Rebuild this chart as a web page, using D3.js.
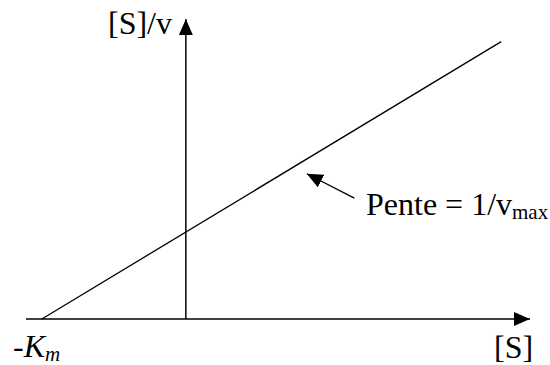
<!DOCTYPE html>
<html>
<head>
<meta charset="utf-8">
<script src="https://cdn.jsdelivr.net/npm/d3@7"></script>
<style>
  html, body { margin: 0; padding: 0; background: #fff; }
</style>
</head>
<body>
<div id="chart"></div>
<script>
// Lineweaver-style plot: [S]/v against [S], Km = 1, vmax = 1
var xDomain = [-1.11, 2.39];     // [S] axis extent (arrow tip at the right)
var yDomain = [0, 3.45];         // [S]/v axis extent (arrow tip at the top)
var lineS = [-1, 2.19];          // [S] values of the straight line
var lineSV = [0, 3.19];          // [S]/v values of the straight line
var pointerFrom = [1.17, 1.39];  // tail of the "Pente" pointer
var pointerTo = [0.84, 1.67];    // head of the "Pente" pointer
var labelY = "[S]/v";
var labelX = "[S]";
var labelKm = ["-", "K", "m"];
var labelSlope = ["Pente = 1/v", "max"];

var serif = "'Liberation Serif', 'DejaVu Serif', serif";

function init(){
  var w = 550, h = 365;

  var xScale = d3.scaleLinear().domain(xDomain).range([26, 530]);
  var yScale = d3.scaleLinear().domain(yDomain).range([319, 19]);

  var svg = d3.select("#chart").append("svg")
    .attr("width", w)
    .attr("height", h);

  var defs = svg.append("defs");
  defs.append("marker")
    .attr("id", "head")
    .attr("markerUnits", "userSpaceOnUse")
    .attr("viewBox", "0 0 16 14")
    .attr("refX", 16).attr("refY", 7)
    .attr("markerWidth", 16).attr("markerHeight", 14)
    .attr("orient", "auto")
    .append("path")
    .attr("d", "M0,0L16,7L0,14Z")
    .attr("fill", "#000");

  // x axis ([S])
  svg.append("line")
    .attr("x1", xScale(xDomain[0])).attr("y1", yScale(0))
    .attr("x2", xScale(xDomain[1])).attr("y2", yScale(0))
    .attr("stroke", "#000").attr("stroke-width", 1.5)
    .attr("marker-end", "url(#head)");

  // y axis ([S]/v)
  svg.append("line")
    .attr("x1", xScale(0)).attr("y1", yScale(0))
    .attr("x2", xScale(0)).attr("y2", yScale(yDomain[1]))
    .attr("stroke", "#000").attr("stroke-width", 1.5)
    .attr("marker-end", "url(#head)");

  // the straight line
  var line = d3.line()
    .x(function(d) { return xScale(d[0]); })
    .y(function(d) { return yScale(d[1]); });

  svg.append("path")
    .datum(d3.zip(lineS, lineSV))
    .attr("fill", "none")
    .attr("stroke", "#000")
    .attr("stroke-width", 1.3)
    .attr("d", line);

  // slope pointer
  svg.append("line")
    .attr("x1", xScale(pointerFrom[0])).attr("y1", yScale(pointerFrom[1]))
    .attr("x2", xScale(pointerTo[0])).attr("y2", yScale(pointerTo[1]))
    .attr("stroke", "#000").attr("stroke-width", 1.3)
    .attr("marker-end", "url(#head)");

  // labels
  svg.append("text")
    .attr("x", 172).attr("y", 34)
    .attr("text-anchor", "end")
    .attr("font-family", serif)
    .attr("font-size", 32)
    .text(labelY);

  svg.append("text")
    .attr("x", 494).attr("y", 358)
    .attr("font-family", serif)
    .attr("font-size", 32)
    .text(labelX);

  var km = svg.append("text")
    .attr("x", 13).attr("y", 357)
    .attr("font-family", serif)
    .attr("font-size", 32);
  km.append("tspan").text(labelKm[0]);
  km.append("tspan").attr("font-style", "italic").text(labelKm[1]);
  km.append("tspan").attr("font-style", "italic").attr("font-size", 21).attr("dy", 4).text(labelKm[2]);

  var slope = svg.append("text")
    .attr("x", 366).attr("y", 215)
    .attr("font-family", serif)
    .attr("font-size", 32);
  slope.append("tspan").text(labelSlope[0]);
  slope.append("tspan").attr("font-size", 21).attr("dy", 4).text(labelSlope[1]);
}

window.onload = init;
</script>
</body>
</html>
